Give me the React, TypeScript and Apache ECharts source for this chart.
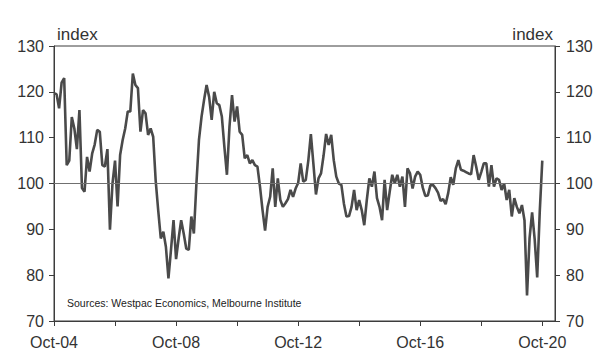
import React, { useEffect, useRef } from "react";
import * as echarts from "echarts";

// Monthly index, Oct-04 .. Oct-20
const sentiment: number[] = [
  119.7, 119.5, 116.4, 122, 123, 104, 105, 114.5, 112, 107.5, 116, 99,
  98.2, 105.8, 102.6, 106.5, 108.5, 111.7, 111.3, 104, 103.7, 107.5, 89.9, 100,
  105, 95, 106.2, 109.5, 112, 115.7, 115.7, 124, 121.5, 120.8, 111.3, 116,
  115.3, 110.6, 112, 110.2, 100.5, 94, 88, 89.5, 86.2, 79.3, 85.5, 92,
  83.5, 88, 92, 89.1, 85.8, 85.5, 92.8, 89.1, 100, 109.5, 114.5, 118.2,
  121.5, 118.9, 113.9, 120, 117.5, 117.1, 114.6, 108, 101.9, 112.4, 119.3, 113.5,
  116.8, 111.3, 110.6, 105.5, 106.2, 104.4, 105.1, 104, 103.7, 99.3, 94.2, 89.7,
  94.9, 97.1, 103.3, 94.9, 101.1, 96.4, 94.9, 95.7, 96.6, 98.6, 97.1, 98.9,
  100.1, 104.4, 100.4, 100.8, 105, 110.8, 104.3, 97.6, 101.1, 102.2, 106.1, 110.8,
  108.4, 110.6, 105.1, 101.5, 100, 99.7, 95.6, 92.8, 92.9, 94.9, 98.6, 94.2,
  96.4, 94.2, 90.9, 96.4, 101.1, 99.3, 102.6, 96.8, 94.9, 92, 100.8, 94.2,
  98.2, 101.9, 100, 101.9, 99.3, 101.5, 94.9, 103.3, 102.2, 98.9, 101.5, 102.6,
  101.9, 99.1, 97.3, 97.4, 99.6, 99.7, 99.0, 98.0, 96.2, 96.6, 95.5, 97.9,
  101.4, 99.7, 103.3, 105.1, 103, 102.8, 102.5, 102.2, 102, 106.2, 103.7, 100.8,
  102.5, 104.4, 104.4, 99.3, 104, 99.3, 101.1, 100.8, 98.6, 100, 96.4, 98.6,
  92.8, 96.8, 94.9, 93.5, 95.3, 92, 75.6, 88.1, 93.7, 87.9, 79.5, 93.8,
  105,
];

const monthNames = ["Jan", "Feb", "Mar", "Apr", "May", "Jun", "Jul", "Aug", "Sep", "Oct", "Nov", "Dec"];
const startYear = 2004;
const startMonth = 9; // Oct
const totalMonths = 198; // axis runs a few months past Oct-20

const categories: string[] = [];
for (let k = 0; k < totalMonths; k++) {
  const m = (startMonth + k) % 12;
  const y = startYear + Math.floor((startMonth + k) / 12);
  categories.push(monthNames[m] + "-" + String(y % 100).padStart(2, "0"));
}

const yMin = 70;
const yMax = 130;
const yStep = 10;
const referenceLevel = 100;

const FONT = "Liberation Sans, Arial, sans-serif";
const TEXT = "#333";
const AXIS = "#3c3c3c";

export default function App() {
  const ref = useRef<HTMLDivElement>(null);
  useEffect(() => {
    if (!ref.current) return;
    const chart = echarts.init(ref.current, undefined, { renderer: "svg" });
    const yAxisBase = {
      type: "value" as const,
      min: yMin,
      max: yMax,
      interval: yStep,
      splitLine: { show: false },
      axisLine: { show: true, lineStyle: { color: AXIS, width: 1 } },
      axisTick: { show: true, length: 5, lineStyle: { color: AXIS } },
      axisLabel: { color: TEXT, fontSize: 16, fontFamily: FONT, margin: 10 },
    };
    chart.setOption({
      animation: false,
      backgroundColor: "#ffffff",
      grid: {
        left: 54,
        right: 54,
        top: 46,
        bottom: 36,
        show: true,
        borderColor: AXIS,
        borderWidth: 1,
        containLabel: false,
      },
      xAxis: {
        type: "category",
        data: categories,
        boundaryGap: false,
        axisLine: { show: true, lineStyle: { color: AXIS, width: 1 } },
        axisTick: {
          show: true,
          length: 5,
          interval: (i: number) => i % 24 === 0,
          lineStyle: { color: AXIS },
        },
        axisLabel: {
          interval: (i: number) => i % 48 === 0,
          color: TEXT,
          fontSize: 16,
          fontFamily: FONT,
          margin: 13,
          showMinLabel: true,
        },
        splitLine: { show: false },
      },
      yAxis: [
        { ...yAxisBase, position: "left" },
        { ...yAxisBase, position: "right", axisLabel: { ...yAxisBase.axisLabel, margin: 11 } },
      ],
      graphic: [
        {
          type: "text",
          left: 57,
          top: 26,
          style: { text: "index", fill: TEXT, fontSize: 17, fontFamily: FONT },
        },
        {
          type: "text",
          right: 56,
          top: 26,
          style: { text: "index", fill: TEXT, fontSize: 17, fontFamily: FONT },
        },
        {
          type: "text",
          left: 67,
          top: 297,
          style: {
            text: "Sources: Westpac Economics, Melbourne Institute",
            fill: "#222",
            fontSize: 10.5,
            fontFamily: FONT,
          },
        },
      ],
      series: [
        {
          type: "line",
          data: sentiment,
          yAxisIndex: 0,
          showSymbol: false,
          symbol: "none",
          lineStyle: { color: "#4a4a4a", width: 2.6 },
          markLine: {
            silent: true,
            symbol: "none",
            label: { show: false },
            lineStyle: { color: "#707070", width: 1.2, type: "solid" },
            data: [{ yAxis: referenceLevel }],
          },
          z: 3,
        },
      ],
    });
    return () => chart.dispose();
  }, []);
  return <div ref={ref} style={{ width: 609, height: 357, position: "absolute", left: 0, top: 0 }} />;
}
